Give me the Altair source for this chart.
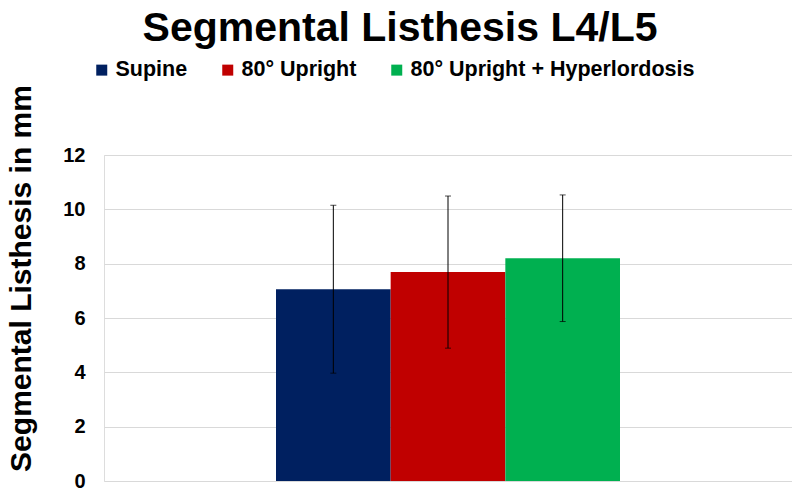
import altair as alt
import pandas as pd

groups = ["Supine", "80° Upright", "80° Upright + Hyperlordosis"]
means = [7.06, 7.69, 8.20]
sds = [3.09, 2.80, 2.33]
colors = ["#002060", "#C00000", "#00B050"]
y_ticks = [0, 2, 4, 6, 8, 10, 12]

df = pd.DataFrame({
    "seg": ["L4/L5"] * len(groups),
    "group": groups,
    "mean": means,
    "sd": sds,
})
df["lo"] = df["mean"] - df["sd"]
df["hi"] = df["mean"] + df["sd"]

FONT = "Liberation Sans"

x_enc = alt.X("seg:N", axis=None, scale=alt.Scale(paddingOuter=0.5, paddingInner=0))
xo_enc = alt.XOffset("group:N", sort=groups, scale=alt.Scale(paddingInner=0, paddingOuter=0))

color_enc = alt.Color(
    "group:N",
    sort=groups,
    scale=alt.Scale(domain=groups, range=colors),
    legend=alt.Legend(
        title=None,
        orient="none",
        direction="horizontal",
        legendX=-13,
        legendY=-96,
        symbolType="square",
        symbolSize=121,
        symbolStrokeWidth=0,
        labelFont=FONT,
        labelFontSize=21.5,
        labelFontWeight="bold",
        labelColor="#000000",
        labelOffset=3,
        labelLimit=0,
        columnPadding=29,
        padding=0,
    ),
)

y_axis = alt.Axis(
    values=y_ticks,
    grid=True,
    gridColor="#d9d9d9",
    gridWidth=1,
    domain=False,
    ticks=False,
    tickSize=0,
    labelFont=FONT,
    labelFontSize=20,
    labelFontWeight="bold",
    labelColor="#000000",
    labelPadding=19,
    title="Segmental Listhesis in mm",
    titleFont=FONT,
    titleFontSize=30,
    titleFontWeight="bold",
    titleColor="#000000",
    titleAngle=-90,
    titleX=-74,
    titleY=123,
    titleAlign="center",
    titleBaseline="alphabetic",
)

bars = alt.Chart(df).mark_bar(strokeWidth=0).encode(
    x=x_enc,
    xOffset=xo_enc,
    y=alt.Y("mean:Q", scale=alt.Scale(domain=[0, 12], nice=False), axis=y_axis),
    color=color_enc,
)

rules = alt.Chart(df).mark_rule(color="#000000", strokeWidth=1).encode(
    x=x_enc,
    xOffset=xo_enc,
    y=alt.Y("lo:Q"),
    y2="hi:Q",
)

caps_hi = alt.Chart(df).mark_tick(color="#000000", size=6, thickness=1).encode(
    x=x_enc,
    xOffset=xo_enc,
    y=alt.Y("hi:Q"),
)
caps_lo = alt.Chart(df).mark_tick(color="#000000", size=6, thickness=1).encode(
    x=x_enc,
    xOffset=xo_enc,
    y=alt.Y("lo:Q"),
)

chart = alt.layer(bars, rules, caps_hi, caps_lo).properties(
    width=688,
    height=326,
    autosize=alt.AutoSizeParams(type="none"),
    padding={"left": 96, "top": 147, "right": 0, "bottom": 7},
    title=alt.TitleParams(
        "Segmental Listhesis L4/L5",
        font=FONT,
        fontSize=41,
        fontWeight="bold",
        color="#000000",
        anchor="middle",
        baseline="alphabetic",
        offset=20,
        dx=-48,
        dy=43,
    ),
).configure_view(stroke=None).configure(background="#ffffff")

chart.save("out.html", embed_options={"renderer": "svg", "actions": False})
